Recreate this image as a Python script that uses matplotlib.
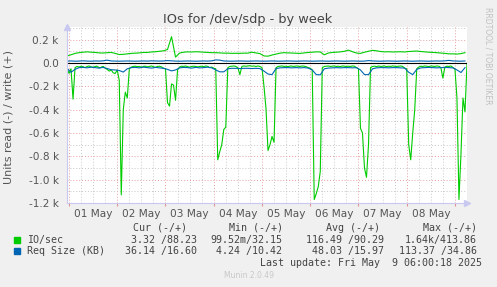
import numpy as np
import matplotlib
matplotlib.use("Agg")
import matplotlib.pyplot as plt

# hours since 01 May 00:00
hours2 = np.arange(-1, 198, 2)   # 2-hour samples
hours1 = np.arange(-1, 199)      # 1-hour samples

io_write = [60, 70, 82, 88, 92, 95, 92, 90, 86, 85, 88, 90, 82, 72, 74, 78, 82, 84, 86, 90,
            90, 94, 96, 100, 104, 115, 225, 50, 85, 92, 95, 94, 96, 95, 92, 90, 88, 88, 86, 84,
            84, 82, 83, 82, 84, 84, 92, 86, 80, 60, 58, 68, 76, 84, 88, 86, 85, 83, 82, 86,
            90, 92, 95, 94, 70, 85, 90, 92, 95, 100, 110, 96, 85, 82, 92, 100, 108, 104, 98, 95,
            96, 94, 95, 96, 94, 98, 100, 102, 98, 95, 92, 90, 88, 85, 82, 78, 78, 76, 80, 88]

io_read = [40, 90, 50, 310, 40, 30, 35, 28, 32, 40, 30, 26, 34, 38, 30, 28, 42, 36, 30, 45,
           55, 70, 60, 85, 90, 60, 150, 1130, 400, 250, 300, 50, 35, 30, 28, 32, 30, 36, 30, 28,
           34, 30, 26, 32, 38, 30, 28, 34, 45, 50, 340, 370, 180, 190, 320, 60, 35, 28, 30, 26,
           32, 36, 30, 28, 30, 34, 30, 28, 32, 26, 30, 40, 35, 45, 50, 830, 760, 700, 570, 550,
           40, 30, 28, 26, 30, 40, 100, 30, 26, 28, 26, 24, 28, 26, 30, 26, 30, 40, 200, 390,
           750, 700, 630, 680, 40, 30, 28, 26, 30, 28, 32, 26, 28, 30, 26, 28, 30, 26, 28, 32,
           40, 45, 60, 1170, 1120, 1060, 930, 40, 30, 28, 26, 30, 28, 26, 30, 28, 32, 26, 28, 30,
           28, 30, 26, 28, 40, 50, 560, 600, 900, 980, 700, 40, 30, 28, 32, 26, 30, 28, 26, 32,
           28, 30, 26, 28, 30, 28, 26, 30, 45, 50, 700, 830, 600, 400, 50, 35, 28, 30, 26, 28,
           32, 26, 28, 30, 26, 28, 40, 130, 35, 28, 30, 26, 40, 50, 300, 1170, 780, 300, 420, 3]

req_write = [16, 17, 15, 16, 18, 16, 15, 17, 16, 18, 24, 17, 16, 15, 16, 17, 16, 15, 16, 17,
             16, 18, 17, 16, 17, 20, 18, 16, 15, 16, 17, 16, 15, 16, 17, 16, 18, 26, 24, 17,
             16, 15, 16, 17, 16, 15, 16, 17, 16, 15, 16, 17, 16, 15, 16, 17, 16, 15, 16, 17,
             16, 15, 16, 17, 16, 15, 16, 17, 16, 15, 16, 17, 16, 15, 16, 20, 17, 16, 15, 16,
             17, 16, 15, 16, 17, 16, 15, 16, 17, 16, 15, 16, 17, 16, 18, 22, 17, 16, 15, 17]

req_read = [45, 80, 55, 40, 38, 42, 36, 40, 44, 38, 48, 58, 60, 65, 78, 50, 40, 38, 42, 36,
            40, 44, 38, 42, 46, 55, 68, 60, 42, 38, 40, 44, 38, 42, 40, 36, 42, 60, 76, 76,
            50, 46, 46, 48, 46, 46, 48, 46, 48, 70, 95, 100, 48, 42, 40, 40, 42, 40, 42, 40,
            44, 60, 100, 102, 50, 44, 42, 40, 42, 40, 40, 42, 40, 60, 100, 100, 50, 42, 40, 40,
            42, 40, 40, 42, 44, 80, 100, 55, 42, 40, 38, 40, 42, 40, 38, 40, 42, 60, 82, 40]

day_labels = ["01 May", "02 May", "03 May", "04 May", "05 May", "06 May", "07 May", "08 May"]

GREEN = "#00CC00"
BLUE = "#0066B3"
W, H = 497, 287

fig = plt.figure(figsize=(W / 100, H / 100), dpi=100, facecolor="#F0F0F0")
ax = fig.add_axes([67 / W, 1 - 203 / H, 400 / W, 176 / H])
ax.set_facecolor("white")

ax.plot(hours2, io_write, color=GREEN, lw=0.8)
ax.plot(hours1, -np.array(io_read), color=GREEN, lw=0.8)
ax.plot(hours2, req_write, color=BLUE, lw=0.8)
ax.plot(hours2, -np.array(req_read), color=BLUE, lw=0.8)
ax.axhline(0, color="black", lw=0.8)

ax.set_xlim(-1, 198)
ax.set_ylim(-1200, 308)

# grid: red dotted majors, grey dotted minors
mid = np.arange(0, 193, 24)
ax.set_xticks(mid)
ax.set_xticklabels([])
minor = [h for h in np.arange(0, 198, 6) if h % 24 != 0]
minor_lab = [day_labels[int(h // 24)] if h % 24 == 12 else "" for h in minor]
ax.set_xticks(minor, labels=minor_lab, minor=True)
ax.tick_params(axis="x", which="major", length=2, color="#E09090")
ax.tick_params(axis="x", which="minor", length=0, pad=4, labelsize=7.6, labelcolor="#555555")

yt = np.arange(-1200, 201, 200)
ax.set_yticks(yt)
ax.set_yticklabels(["0.0" if v == 0 else f"{v / 1000:.1f} k" for v in yt])
ax.set_yticks(np.arange(-1100, 301, 200), minor=True)
ax.tick_params(axis="y", which="both", length=0, pad=6, labelsize=7.6, labelcolor="#555555")

ax.grid(True, which="major", color="#E8A0A0", ls=(0, (1, 2)), lw=0.7)
ax.grid(True, which="minor", color="#C8C8C8", ls=(0, (1, 2)), lw=0.7)
ax.set_axisbelow(True)

for s in ["top", "right"]:
    ax.spines[s].set_visible(False)
for s in ["left", "bottom"]:
    ax.spines[s].set_color("#C8C8F0")
    ax.spines[s].set_linewidth(0.8)
ax.plot([0], [1.0], marker="^", ms=4, color="#C8C8F0", transform=ax.transAxes, clip_on=False)
ax.plot([1.0], [0], marker=">", ms=4, color="#C8C8F0", transform=ax.transAxes, clip_on=False)

fig.text(248 / W, 1 - 20 / H, "IOs for /dev/sdp - by week", ha="center", va="center",
         fontsize=9.3, color="#444444")
fig.text(9 / W, 1 - 117 / H, "Units read (-) / write (+)", rotation=90, ha="center",
         va="center", fontsize=8, color="#555555")
fig.text(488 / W, 1 - 56 / H, "RRDTOOL / TOBI OETIKER", rotation=270, ha="center",
         va="center", fontsize=5.5, color="#C0C0C0")

mono = dict(family="DejaVu Sans Mono", fontsize=7.2, color="#444444", va="center")
hy = 1 - 228 / H
fig.text(187 / W, hy, "Cur (-/+)", ha="right", **mono)
fig.text(283 / W, hy, "Min (-/+)", ha="right", **mono)
fig.text(380 / W, hy, "Avg (-/+)", ha="right", **mono)
fig.text(477 / W, hy, "Max (-/+)", ha="right", **mono)

rows = [("IO/sec", GREEN, ["3.32 /88.23", "99.52m/32.15", "116.49 /90.29", "1.64k/413.86"]),
        ("Req Size (KB)", BLUE, ["36.14 /16.60", "4.24 /10.42", "48.03 /15.97", "113.37 /34.86"])]
for k, (name, col, vals) in enumerate(rows):
    y = 1 - (239.5 + 11.7 * k) / H
    fig.patches.append(plt.Rectangle((14 / W, y - 3 / H), 6 / W, 6 / H, color=col,
                                     transform=fig.transFigure))
    fig.text(27 / W, y, name, ha="left", **mono)
    for xr, v in zip([197, 282, 384, 477], vals):
        fig.text(xr / W, y, v, ha="right", **mono)

fig.text(482 / W, 1 - 263.5 / H, "Last update: Fri May  9 06:00:18 2025", ha="right", **mono)
fig.text(249 / W, 1 - 276 / H, "Munin 2.0.49", ha="center", va="center", fontsize=5.5,
         color="#C8C8C8")

fig.savefig("out.png", dpi=100, facecolor=fig.get_facecolor())
